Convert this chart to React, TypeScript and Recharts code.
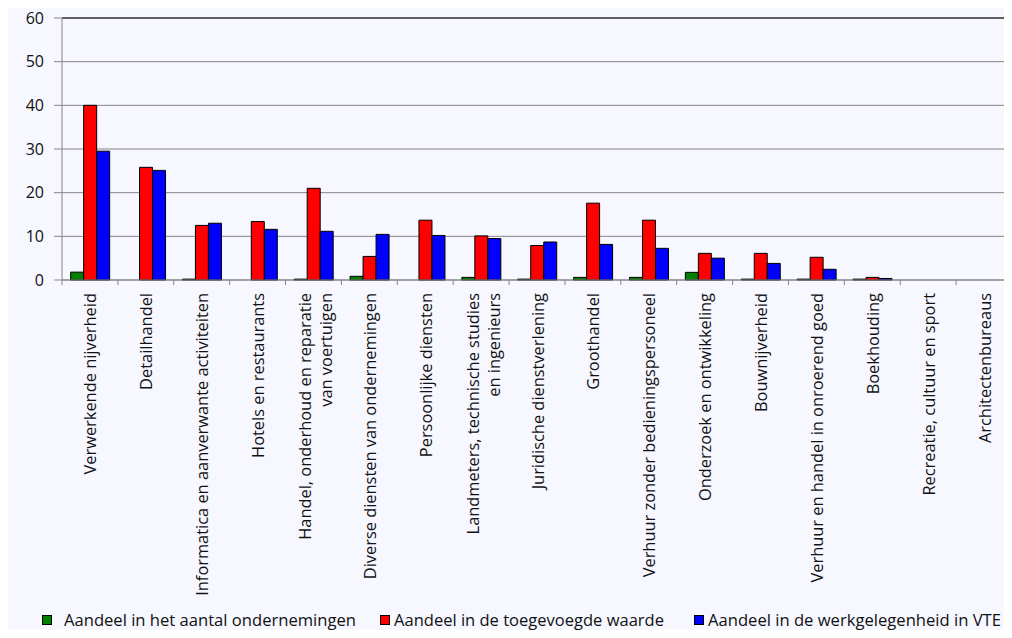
import { Bar, BarChart, CartesianGrid, Legend, ReferenceLine, XAxis, YAxis } from 'recharts'

const categories = [
  'Verwerkende nijverheid',
  'Detailhandel',
  'Informatica en aanverwante activiteiten',
  'Hotels en restaurants',
  'Handel, onderhoud en reparatie\nvan voertuigen',
  'Diverse diensten van ondernemingen',
  'Persoonlijke diensten',
  'Landmeters, technische studies\nen ingenieurs',
  'Juridische dienstverlening',
  'Groothandel',
  'Verhuur zonder bedieningspersoneel',
  'Onderzoek en ontwikkeling',
  'Bouwnijverheid',
  'Verhuur en handel in onroerend goed',
  'Boekhouding',
  'Recreatie, cultuur en sport',
  'Architectenbureaus',
]

const ondernemingen = [1.8, 0, 0.2, 0, 0.2, 0.85, 0, 0.6, 0.2, 0.6, 0.6, 1.75, 0.2, 0.2, 0.2, 0, 0]
const toegevoegd = [40, 25.8, 12.5, 13.4, 21.0, 5.4, 13.7, 10.1, 7.9, 17.6, 13.7, 6.1, 6.1, 5.2, 0.6, 0, 0]
const werkgelegenheid = [29.5, 25.1, 13.0, 11.6, 11.15, 10.45, 10.2, 9.5, 8.7, 8.15, 7.25, 5.0, 3.8, 2.45, 0.35, 0, 0]

const yTicks = [0, 10, 20, 30, 40, 50, 60]

const seriesNames = [
  'Aandeel in het aantal ondernemingen',
  'Aandeel in de toegevoegde waarde',
  'Aandeel in de werkgelegenheid in VTE',
]

const data = categories.map((c, i) => ({
  name: c,
  ond: ondernemingen[i],
  toe: toegevoegd[i],
  werk: werkgelegenheid[i],
}))

const W = 1012
const H = 638
const AXIS_X = 62
const BAND = (W - AXIS_X) / categories.length
const GRID = '#868686'
const FONT = '"Open Sans", "DejaVu Sans", sans-serif'

function CategoryTick(props: any) {
  const { x, y, payload, index } = props
  const lines: string[] = String(payload.value).split('\n')
  const offsets = lines.length === 1 ? [0] : [-9, 12]
  return (
    <g>
      <line x1={x - BAND / 2} x2={x - BAND / 2} y1={y} y2={y + 5} stroke={GRID} />
      {index === categories.length - 1 ? (
        <line x1={x + BAND / 2} x2={x + BAND / 2} y1={y} y2={y + 5} stroke={GRID} />
      ) : null}
      <g transform={`translate(${x}, ${y + 13}) rotate(-90)`}>
        {lines.map((l, i) => (
          <text
            key={i}
            x={0}
            y={offsets[i]}
            textAnchor="end"
            dominantBaseline="central"
            fontSize={16.4}
            fontFamily={FONT}
            fill="#111"
          >
            {l}
          </text>
        ))}
      </g>
    </g>
  )
}

const legendItems = [
  { name: seriesNames[0], color: '#008000', sq: 42, tx: 64, len: 292 },
  { name: seriesNames[1], color: '#FF0000', sq: 380, tx: 394, len: 270 },
  { name: seriesNames[2], color: '#0000FF', sq: 694, tx: 708, len: 293 },
]

function LegendBox() {
  return (
    <div style={{ height: 43, width: W }}>
      <svg width={W} height={43}>
        {legendItems.map((it) => (
          <g key={it.name}>
            <rect x={it.sq + 0.5} y={20.5} width={9} height={9} fill={it.color} stroke="#000" />
            <text
              x={it.tx}
              y={31}
              fontSize={17}
              fontFamily={FONT}
              fill="#111"
              textLength={it.len}
              lengthAdjust="spacingAndGlyphs"
            >
              {it.name}
            </text>
          </g>
        ))}
      </svg>
    </div>
  )
}

export default function App() {
  return (
    <div style={{ position: 'relative', width: W, height: H, margin: -8, background: '#fff' }}>
      <div style={{ position: 'absolute', left: 7, top: 4, right: 0, bottom: 0, background: '#F6F7FF' }} />
      <div style={{ position: 'absolute', left: 0, top: 0 }}>
        <BarChart
          width={W}
          height={H}
          data={data}
          margin={{ top: 18, right: 0, left: 0, bottom: 0 }}
          barCategoryGap="15.5%"
          barGap={0}
        >
          <CartesianGrid vertical={false} stroke={GRID} />
          <XAxis
            dataKey="name"
            interval={0}
            height={315}
            tickLine={false}
            tickSize={0}
            tickMargin={0}
            axisLine={{ stroke: GRID }}
            tick={<CategoryTick />}
          />
          <YAxis
            domain={[0, 60]}
            ticks={yTicks}
            width={AXIS_X}
            tickSize={8}
            tickMargin={10}
            tickLine={{ stroke: GRID }}
            axisLine={{ stroke: GRID }}
            tick={{ fill: '#111', fontSize: 16, fontFamily: FONT }}
          />
          <ReferenceLine y={60} stroke="#000" />
          <Bar dataKey="ond" name={seriesNames[0]} fill="#008000" stroke="#000" isAnimationActive={false} />
          <Bar dataKey="toe" name={seriesNames[1]} fill="#FF0000" stroke="#000" isAnimationActive={false} />
          <Bar dataKey="werk" name={seriesNames[2]} fill="#0000FF" stroke="#000" isAnimationActive={false} />
          <Legend verticalAlign="bottom" content={<LegendBox />} />
        </BarChart>
      </div>
    </div>
  )
}
